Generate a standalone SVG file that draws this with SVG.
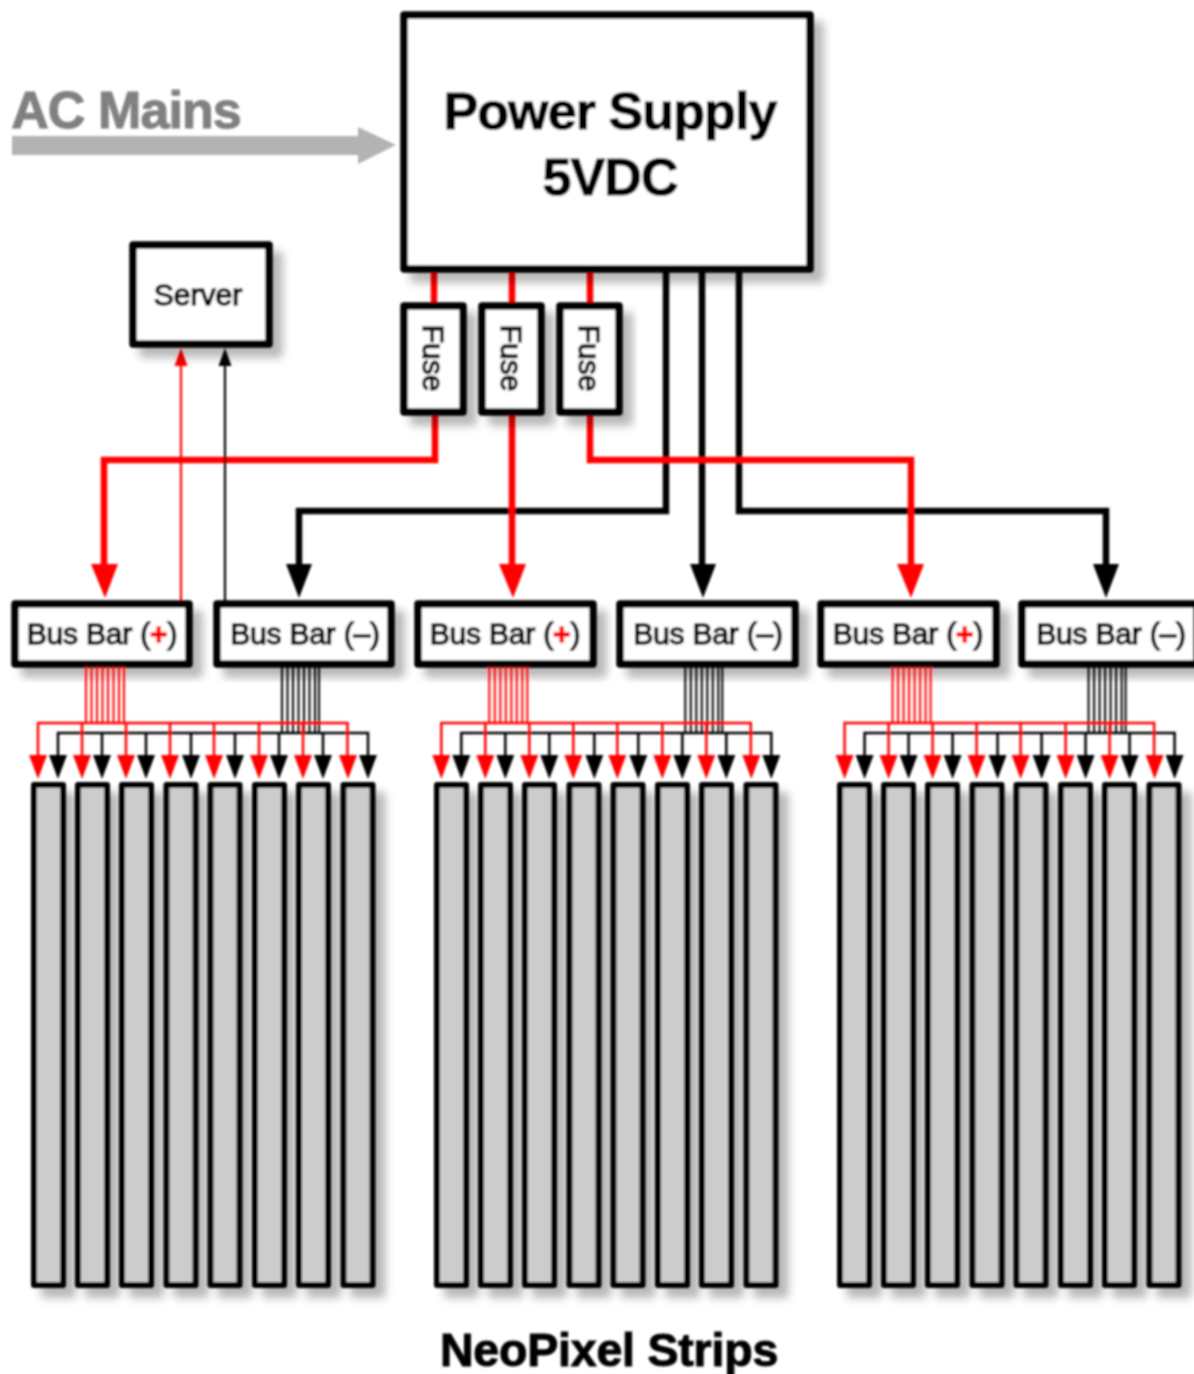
<svg xmlns="http://www.w3.org/2000/svg" width="1194" height="1374" viewBox="0 0 1194 1374">
<defs>
<style>
text{font-family:"Liberation Sans",Arial,sans-serif;fill:#000;text-anchor:middle}
.box{fill:#fff;stroke:#000;stroke-width:7.500;stroke-linejoin:round}
.strip{fill:#ccc;stroke:#000;stroke-width:6;stroke-linejoin:round}
.r{fill:none;stroke:#f00}
.k{fill:none;stroke:#000}
.bus{font-size:30px;letter-spacing:-.2px;stroke:#000;stroke-width:1.300px}
.fuse{font-size:30px;stroke:#000;stroke-width:1.300px}
.big{font-weight:bold;font-size:52px;letter-spacing:-.9px;stroke:#000;stroke-width:1px}
.ac{fill:#808080;stroke:#808080}
.pl{fill:#f00;stroke:#f00;font-weight:bold}
</style>
<filter id="soft" x="0" y="0" width="1194" height="1374" filterUnits="userSpaceOnUse"><feGaussianBlur stdDeviation="0.85"/></filter>
<filter id="sh" x="-20%" y="-20%" width="150%" height="150%"><feDropShadow dx="10" dy="10" stdDeviation="4" flood-color="#000" flood-opacity=".28"/></filter>
<g id="fan">
<g class="r" stroke-width="2"><path d="M86 667V723M91.500 667V723M97 667V723M102.500 667V723M108 667V723M113.500 667V723M119 667V723M124 667V723"/></g>
<g class="k" stroke-width="2"><path d="M282 667V733M287.500 667V733M293 667V733M298.500 667V733M304 667V733M309.500 667V733M315 667V733M319 667V733"/></g>
<path class="k" stroke-width="2.500" d="M58 758V733H368V758M102 733V758M146 733V758M191 733V758M235 733V758M279 733V758M323 733V758"/>
<path class="r" stroke-width="2.500" d="M38 758V723H347.500V758M82 723V758M126 723V758M170 723V758M214 723V758M259 723V758M303 723V758"/>
<path fill="#f00" d="M29 755H47L38 779zM73 755H91L82 779zM117 755H135L126 779zM161 755H179L170 779zM205 755H223L214 779zM250 755H268L259 779zM294 755H312L303 779zM339 755H357L348 779z"/>
<path fill="#000" d="M49 755H67L58 779zM93 755H111L102 779zM137 755H155L146 779zM182 755H200L191 779zM226 755H244L235 779zM270 755H288L279 779zM314 755H332L323 779zM359 755H377L368 779z"/>
</g>
<g id="strips">
<rect class="strip" x="34" y="785" width="29" height="500"/><rect class="strip" x="78" y="785" width="29" height="500"/><rect class="strip" x="122" y="785" width="29" height="500"/><rect class="strip" x="166.500" y="785" width="29" height="500"/><rect class="strip" x="210.500" y="785" width="29" height="500"/><rect class="strip" x="255" y="785" width="29" height="500"/><rect class="strip" x="299" y="785" width="29" height="500"/><rect class="strip" x="343.500" y="785" width="29" height="500"/>
</g>
</defs>
<rect width="1194" height="1374" fill="#fff"/>
<g filter="url(#soft)">
<g id="connectors">
<path fill="#b3b3b3" d="M12 136H358V127L396 145L358 164V155H12z"/>
<path class="r" stroke-width="6.500" d="M434 269V306M512 269V306M590 269V306"/>
<path class="k" stroke-width="6.500" d="M702 269V570M666 269V511H299V570M739 269V511H1106V570"/>
<path class="r" stroke-width="6.500" d="M435 412V460H104V570M512 412V570M590 412V460H911V570"/>
<path fill="#f00" d="M91 564H118L105 598zM499 564H526L513 598zM897 564H924L911 598z"/>
<path fill="#000" d="M286 564H312L299 598zM690 564H716L703 598zM1093 564H1119L1106 598z"/>
<path class="r" stroke-width="2.200" d="M181 604V362"/><path fill="#f00" d="M174.500 366H187.500L181 348z"/>
<path class="k" stroke-width="2.200" d="M225 604V362"/><path fill="#000" d="M218.500 366H231.500L225 348z"/>
</g>
<g id="power-supply"><rect class="box" filter="url(#sh)" x="404" y="15" width="406" height="254"/>
<text class="big" x="610" y="129">Power Supply</text><text class="big" x="610" y="195">5VDC</text></g>
<g id="ac-mains"><text class="big ac" x="126" y="128">AC Mains</text></g>
<g id="server"><rect class="box" filter="url(#sh)" x="133" y="245" width="136" height="99"/><text class="fuse" x="198" y="305">Server</text></g>
<g id="fuse-1"><rect class="box" filter="url(#sh)" x="404" y="306" width="59" height="106"/><text class="fuse" transform="translate(423 358) rotate(90)">Fuse</text></g>
<g id="fuse-2"><rect class="box" filter="url(#sh)" x="482" y="306" width="59" height="106"/><text class="fuse" transform="translate(501 358) rotate(90)">Fuse</text></g>
<g id="fuse-3"><rect class="box" filter="url(#sh)" x="560" y="306" width="59" height="106"/><text class="fuse" transform="translate(579 358) rotate(90)">Fuse</text></g>
<g id="bus-plus-1"><rect class="box" filter="url(#sh)" x="15" y="604" width="174" height="60"/><text class="bus" x="102" y="644">Bus Bar (<tspan class="pl">+</tspan>)</text></g>
<g id="bus-minus-1"><rect class="box" filter="url(#sh)" x="217" y="604" width="174" height="60"/><text class="bus" x="305" y="644">Bus Bar (–)</text></g>
<g id="bus-plus-2"><rect class="box" filter="url(#sh)" x="418" y="604" width="175" height="60"/><text class="bus" x="505" y="644">Bus Bar (<tspan class="pl">+</tspan>)</text></g>
<g id="bus-minus-2"><rect class="box" filter="url(#sh)" x="620" y="604" width="175" height="60"/><text class="bus" x="708" y="644">Bus Bar (–)</text></g>
<g id="bus-plus-3"><rect class="box" filter="url(#sh)" x="821" y="604" width="175" height="60"/><text class="bus" x="908" y="644">Bus Bar (<tspan class="pl">+</tspan>)</text></g>
<g id="bus-minus-3"><rect class="box" filter="url(#sh)" x="1022" y="604" width="175" height="60"/><text class="bus" x="1111" y="644">Bus Bar (–)</text></g>
<g id="fans"><use href="#fan"/><use href="#fan" x="403.300"/><use href="#fan" x="806.600"/></g>
<g id="strip-1" filter="url(#sh)"><use href="#strips"/></g>
<g id="strip-2" filter="url(#sh)"><use href="#strips" x="403"/></g>
<g id="strip-3" filter="url(#sh)"><use href="#strips" x="806"/></g>
<text x="609" y="1366" font-size="46.500" font-weight="bold" letter-spacing="-.2" stroke="#000" stroke-width="1">NeoPixel Strips</text>
</g>
</svg>
